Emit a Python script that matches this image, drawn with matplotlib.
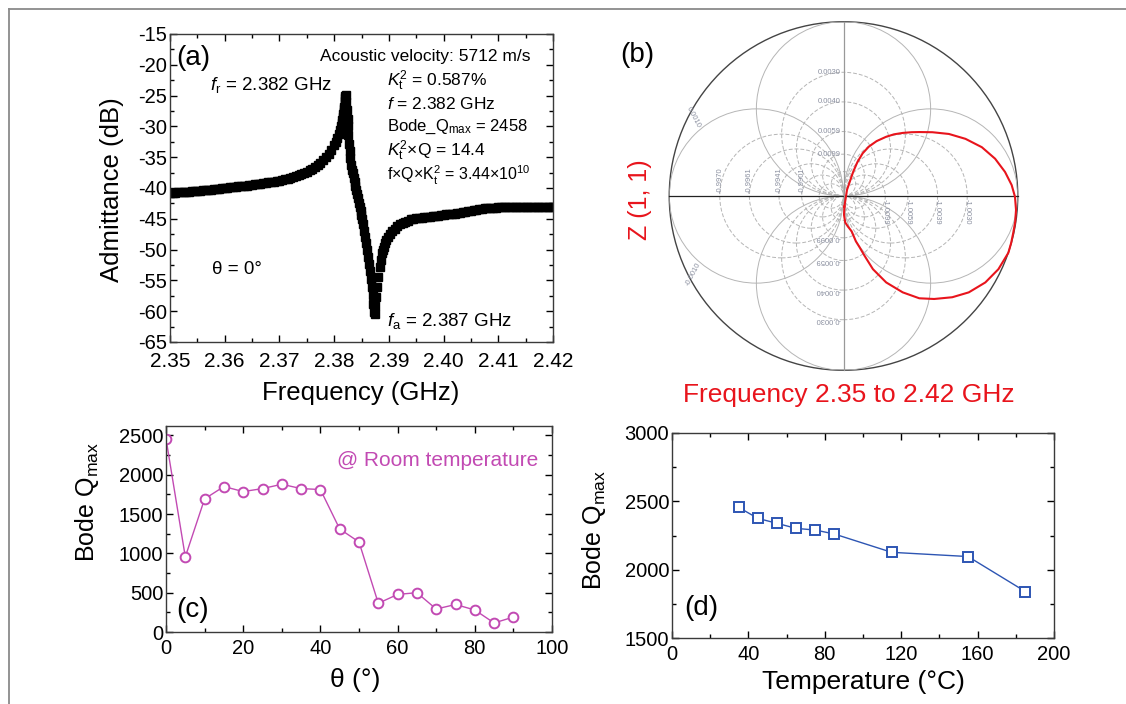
import numpy as np
import matplotlib
matplotlib.use("Agg")
import matplotlib.pyplot as plt
from matplotlib.patches import Circle
from matplotlib.lines import Line2D
from matplotlib.ticker import MultipleLocator

plt.rcParams['font.family'] = ['Liberation Sans', 'DejaVu Sans']
plt.rcParams['mathtext.fontset'] = 'custom'
plt.rcParams['mathtext.rm'] = 'Liberation Sans'
plt.rcParams['mathtext.it'] = 'Liberation Sans:italic'
plt.rcParams['axes.unicode_minus'] = False

# (a) admittance vs frequency, theta = 0
freq_ghz = [2.3500, 2.3505, 2.3510, 2.3515, 2.3520, 2.3525, 2.3530, 2.3535, 2.3540, 2.3545,
            2.3550, 2.3555, 2.3560, 2.3565, 2.3570, 2.3575, 2.3580, 2.3585, 2.3590, 2.3595,
            2.3600, 2.3605, 2.3610, 2.3615, 2.3620, 2.3625, 2.3630, 2.3635, 2.3640, 2.3645,
            2.3650, 2.3655, 2.3660, 2.3665, 2.3670, 2.3675, 2.3680, 2.3685, 2.3690, 2.3695,
            2.3700, 2.3705, 2.3710, 2.3715, 2.3720, 2.3725, 2.3730, 2.3735, 2.3740, 2.3745,
            2.3750, 2.3755, 2.3760, 2.3765, 2.3770, 2.3775, 2.3780, 2.3785, 2.3790, 2.3795,
            2.3800, 2.3803, 2.3806, 2.3809, 2.3811, 2.3813, 2.3814, 2.3815, 2.3816, 2.3817,
            2.38175, 2.3818, 2.38185, 2.3819, 2.38195, 2.3820, 2.38205, 2.3821,
            2.38222, 2.38234, 2.38247, 2.38253, 2.38259, 2.38271, 2.38283, 2.38295, 2.38308,
            2.38325, 2.38344, 2.38360, 2.38375, 2.38390, 2.38405, 2.38420, 2.38436, 2.38451,
            2.38466, 2.38482, 2.38497, 2.38512, 2.38527, 2.38545, 2.38563, 2.38582, 2.38600,
            2.38618, 2.38636, 2.38655, 2.38673, 2.38691, 2.38703, 2.38716, 2.38728, 2.38740,
            2.38755, 2.38770, 2.38789, 2.38807, 2.38831, 2.38850, 2.38874, 2.38890, 2.38911,
            2.38930, 2.38953, 2.38980, 2.39014, 2.39060, 2.39105, 2.39150, 2.39197,
            2.3925, 2.3930, 2.3935, 2.3940, 2.3945, 2.3950, 2.3955, 2.3960, 2.3965, 2.3970,
            2.3975, 2.3980, 2.3985, 2.3990, 2.3995, 2.4000, 2.4005, 2.4010, 2.4015, 2.4020,
            2.4025, 2.4030, 2.4035, 2.4040, 2.4045, 2.4050, 2.4055, 2.4060, 2.4065, 2.4070,
            2.4075, 2.4080, 2.4085, 2.4090, 2.4095, 2.4100, 2.4105, 2.4110, 2.4115, 2.4120,
            2.4125, 2.4130, 2.4135, 2.4140, 2.4145, 2.4150, 2.4155, 2.4160, 2.4165, 2.4170,
            2.4175, 2.4180, 2.4185, 2.4190, 2.4195, 2.4200]
admittance_db = [-40.80, -40.78, -40.75, -40.72, -40.70, -40.65, -40.60, -40.58, -40.55, -40.52,
                 -40.50, -40.45, -40.40, -40.35, -40.30, -40.25, -40.20, -40.15, -40.10, -40.05,
                 -40.00, -39.95, -39.90, -39.85, -39.80, -39.75, -39.70, -39.65, -39.60, -39.55,
                 -39.50, -39.42, -39.35, -39.28, -39.20, -39.15, -39.10, -39.02, -38.95, -38.88,
                 -38.80, -38.70, -38.60, -38.50, -38.40, -38.25, -38.10, -37.95, -37.80, -37.60,
                 -37.40, -37.15, -36.90, -36.60, -36.30, -35.90, -35.50, -35.00, -34.40, -33.80,
                 -33.00, -32.50, -31.90, -31.20, -30.60, -29.90, -29.50, -29.00, -28.50, -28.00,
                 -27.60, -27.20, -26.80, -26.30, -25.80, -25.40, -25.10, -24.90,
                 -26.00, -27.40, -28.80, -30.00, -31.40, -32.80, -34.00, -35.20, -36.30,
                 -37.00, -37.60, -38.30, -39.00, -39.70, -40.40, -41.00, -41.70, -42.40,
                 -43.10, -43.80, -44.40, -45.10, -45.80, -46.90, -47.90, -49.00, -50.10,
                 -51.20, -52.30, -53.40, -54.70, -56.10, -57.40, -58.80, -60.10, -60.40,
                 -59.20, -57.70, -56.10, -54.40, -52.80, -51.70, -50.60, -50.00, -49.60,
                 -49.00, -48.50, -48.00, -47.50, -47.00, -46.60, -46.20, -45.90,
                 -45.70, -45.50, -45.30, -45.10, -45.00, -44.90, -44.85, -44.80, -44.75, -44.70,
                 -44.65, -44.60, -44.55, -44.50, -44.42, -44.35, -44.30, -44.25, -44.20, -44.15,
                 -44.08, -44.00, -43.95, -43.90, -43.80, -43.70, -43.60, -43.50, -43.42, -43.35,
                 -43.30, -43.25, -43.22, -43.20, -43.18, -43.15, -43.12, -43.10, -43.10, -43.10,
                 -43.08, -43.05, -43.05, -43.05, -43.05, -43.05, -43.08, -43.10, -43.10, -43.10,
                 -43.10, -43.10, -43.10, -43.10, -43.10, -43.10]

# (b) Z(1,1) locus in normalised chart coordinates
z_re = [0.005, 0.014, 0.020, 0.037, 0.056, 0.080, 0.110, 0.145, 0.190, 0.245,
        0.290, 0.340, 0.390, 0.435, 0.510, 0.605, 0.700, 0.794, 0.870, 0.927,
        0.965, 0.984, 0.990, 0.985, 0.974, 0.962, 0.946, 0.889, 0.814, 0.719,
        0.624, 0.520, 0.435, 0.340, 0.245, 0.169, 0.122, 0.094, 0.071, 0.047,
        0.025, 0.010, 0.003, 0.005]
z_im = [-0.061, -0.004, 0.035, 0.085, 0.140, 0.195, 0.245, 0.283, 0.315, 0.340,
        0.354, 0.362, 0.366, 0.367, 0.366, 0.356, 0.328, 0.280, 0.214, 0.138,
        0.063, -0.004, -0.080, -0.150, -0.212, -0.270, -0.326, -0.420, -0.496, -0.553,
        -0.581, -0.591, -0.587, -0.553, -0.496, -0.420, -0.345, -0.297, -0.260, -0.203,
        -0.175, -0.152, -0.108, -0.061]
grid_diam = [0.14, 0.24, 0.37, 0.54, 0.71, 1.0]
lbl_diam = [0.71, 0.54, 0.37, 0.24]
lbl_top = ["0.0030", "0.0040", "0.0059", "0.0099"]
lbl_bottom = ["-0.0030", "-0.0040", "-0.0059", "-0.0099"]
lbl_right = ["-1.0030", "-1.0039", "-1.0059", "-1.0099"]
lbl_left = ["-0.9970", "-0.9961", "-0.9941", "-0.9901"]

# (c) Bode Q vs rotation angle
theta_deg = [0, 5, 10, 15, 20, 25, 30, 35, 40, 45, 50, 55, 60, 65, 70, 75, 80, 85, 90]
q_theta = [2458, 955, 1693, 1850, 1786, 1824, 1879, 1824, 1812, 1310, 1145, 365, 478, 500, 292,
           350, 280, 115, 190]

# (d) Bode Q vs temperature
temp_c = [35, 45, 55, 65, 75, 85, 115, 155, 185]
q_temp = [2455, 2375, 2339, 2302, 2290, 2261, 2127, 2096, 1840]

W, H = 1126, 704
fig = plt.figure(figsize=(W / 100, H / 100), dpi=100)


def box(l, t, r, b):
    return [l / W, 1 - b / H, (r - l) / W, (b - t) / H]


def fpos(x, y):
    return x / W, 1 - y / H


def style(ax, size):
    for s in ax.spines.values():
        s.set_linewidth(1.0)
        s.set_color('#3a3a3a')
    ax.tick_params(which='both', direction='in', top=True, right=True, labelsize=size, width=1.0)
    ax.tick_params(which='major', length=5)
    ax.tick_params(which='minor', length=3)
    ax.tick_params(axis='x', pad=5)
    ax.tick_params(axis='y', pad=2)


# page frame
fig.add_artist(Line2D([9 / W, 9 / W], [0, 1 - 9 / H], color='#8a8a8a', lw=1.3))
fig.add_artist(Line2D([9 / W, 1], [1 - 9 / H, 1 - 9 / H], color='#8a8a8a', lw=1.3))

# ---- (a)
ax_a = fig.add_axes(box(170, 34, 553, 342))
style(ax_a, 15)
ax_a.tick_params(axis='x', pad=7)
ax_a.tick_params(axis='y', labelsize=14.5)
ax_a.plot(freq_ghz, admittance_db, ls='none', marker='s', ms=5.5, color='black', mec='black')
ax_a.set_xlim(2.35, 2.42)
ax_a.set_ylim(-65, -15)
ax_a.xaxis.set_major_locator(MultipleLocator(0.01))
ax_a.xaxis.set_minor_locator(MultipleLocator(0.005))
ax_a.yaxis.set_major_locator(MultipleLocator(5))
ax_a.yaxis.set_minor_locator(MultipleLocator(2.5))
ax_a.xaxis.set_major_formatter(lambda v, p: f"{v:.2f}")
ax_a.set_xlabel('Frequency (GHz)', fontsize=18.5, va='center')
ax_a.xaxis.set_label_coords(*fpos(361, 393), transform=fig.transFigure)
ax_a.set_ylabel('Admittance (dB)', fontsize=18.5, va='center')
ax_a.yaxis.set_label_coords(*fpos(112, 190), transform=fig.transFigure)

fig.text(*fpos(176, 58), '(a)', fontsize=20, va='center')
fig.text(*fpos(320, 56), 'Acoustic velocity: 5712 m/s', fontsize=12.5, va='center')
fig.text(*fpos(387, 81), r'$K_\mathrm{t}^2$ = 0.587%', fontsize=12.5, va='center')
fig.text(*fpos(387, 104), r'$f$ = 2.382 GHz', fontsize=12.5, va='center')
fig.text(*fpos(387, 127), r'Bode_Q$_\mathrm{max}$ = 2458', fontsize=12, va='center')
fig.text(*fpos(387, 151), r'$K_\mathrm{t}^2$×Q = 14.4', fontsize=12.5, va='center')
fig.text(*fpos(387, 175), r'f×Q×K$_\mathrm{t}^2$ = 3.44×10$^{10}$', fontsize=11.5, va='center')
fig.text(*fpos(210, 85), r'$f_\mathrm{r}$ = 2.382 GHz', fontsize=13.5, va='center')
fig.text(*fpos(212, 270), 'θ = 0°', fontsize=13.5, va='center')
fig.text(*fpos(387, 321), r'$f_\mathrm{a}$ = 2.387 GHz', fontsize=13.5, va='center')

# ---- (b)
ax_b = fig.add_axes(box(667.5, 20, 1019.5, 372))
ax_b.set_xlim(-1.01, 1.01)
ax_b.set_ylim(-1.01, 1.01)
ax_b.axis('off')
rim = Circle((0, 0), 1.0, fill=False, color='#444444', lw=1.0)
ax_b.add_patch(rim)
for d in grid_diam:
    for a in (0, 90, 180, 270):
        cx = d / 2 * np.cos(np.radians(a))
        cy = d / 2 * np.sin(np.radians(a))
        c = Circle((cx, cy), d / 2, fill=False, color='#b5b5b5', lw=0.7,
                   ls='-' if d == 1.0 else (0, (4, 2)))
        ax_b.add_patch(c)
        c.set_clip_path(rim)
ax_b.plot([-1, 1], [0, 0], color='#222222', lw=0.9)
ax_b.plot([0, 0], [-1, 1], color='#999999', lw=0.9)
lcol = '#8b90a0'
for d, t in zip(lbl_diam, lbl_top):
    ax_b.text(-0.015, d, t, fontsize=5.5, color=lcol, ha='right', va='center')
for d, t in zip(lbl_diam, lbl_bottom):
    ax_b.text(-0.015, -d, t, fontsize=5.5, color=lcol, ha='left', va='center',
              rotation=180, rotation_mode='anchor')
for d, t in zip(lbl_diam, lbl_right):
    ax_b.text(d, -0.02, t, fontsize=5.5, color=lcol, ha='left', va='center',
              rotation=-90, rotation_mode='anchor')
for d, t in zip(lbl_diam, lbl_left):
    ax_b.text(-d, 0.02, t, fontsize=5.5, color=lcol, ha='left', va='center',
              rotation=90, rotation_mode='anchor')
ax_b.text(-0.86, 0.45, '0.0010', fontsize=5.5, color=lcol, ha='center', va='center', rotation=-62)
ax_b.text(-0.86, -0.45, '-0.0010', fontsize=5.5, color=lcol, ha='center', va='center', rotation=62)
ax_b.plot(z_re, z_im, color='#e8141c', lw=1.5)

fig.text(*fpos(620, 55), '(b)', fontsize=20, va='center')
fig.text(*fpos(640, 200), 'Z (1, 1)', fontsize=18, color='#e8141c', rotation=90,
         ha='center', va='center')
fig.text(*fpos(849, 395), 'Frequency 2.35 to 2.42 GHz', fontsize=19, color='#e8141c',
         ha='center', va='center')

# ---- (c)
mag = '#c24ab3'
ax_c = fig.add_axes(box(166, 426, 552, 632))
style(ax_c, 14.5)
ax_c.plot(theta_deg, q_theta, color=mag, lw=1.0, marker='o', ms=7, mfc='white', mec=mag, mew=1.4)
ax_c.set_xlim(0, 100)
ax_c.set_ylim(0, 2620)
ax_c.xaxis.set_major_locator(MultipleLocator(20))
ax_c.xaxis.set_minor_locator(MultipleLocator(10))
ax_c.yaxis.set_major_locator(MultipleLocator(500))
ax_c.yaxis.set_minor_locator(MultipleLocator(250))
ax_c.set_xlabel('θ (°)', fontsize=19, va='center')
ax_c.xaxis.set_label_coords(*fpos(355, 680), transform=fig.transFigure)
ax_c.set_ylabel(r'Bode Q$_\mathrm{max}$', fontsize=18, va='center')
ax_c.yaxis.set_label_coords(*fpos(87, 502), transform=fig.transFigure)
fig.text(*fpos(538, 460), '@ Room temperature', fontsize=15, color=mag, ha='right', va='center')
fig.text(*fpos(176, 610), '(c)', fontsize=20, va='center')

# ---- (d)
blu = '#2d55b3'
ax_d = fig.add_axes(box(672, 433, 1054, 638))
style(ax_d, 14.5)
ax_d.plot(temp_c, q_temp, color=blu, lw=1.0, marker='s', ms=6.5, mfc='white', mec=blu, mew=1.4)
ax_d.set_xlim(0, 200)
ax_d.set_ylim(1500, 3000)
ax_d.xaxis.set_major_locator(MultipleLocator(40))
ax_d.xaxis.set_minor_locator(MultipleLocator(20))
ax_d.yaxis.set_major_locator(MultipleLocator(500))
ax_d.yaxis.set_minor_locator(MultipleLocator(250))
ax_d.set_xlabel('Temperature (°C)', fontsize=19, va='center')
ax_d.xaxis.set_label_coords(*fpos(863, 682), transform=fig.transFigure)
ax_d.set_ylabel(r'Bode Q$_\mathrm{max}$', fontsize=18, va='center')
ax_d.yaxis.set_label_coords(*fpos(594, 530), transform=fig.transFigure)
fig.text(*fpos(684, 608), '(d)', fontsize=20, va='center')

fig.savefig('out.png', dpi=100)
